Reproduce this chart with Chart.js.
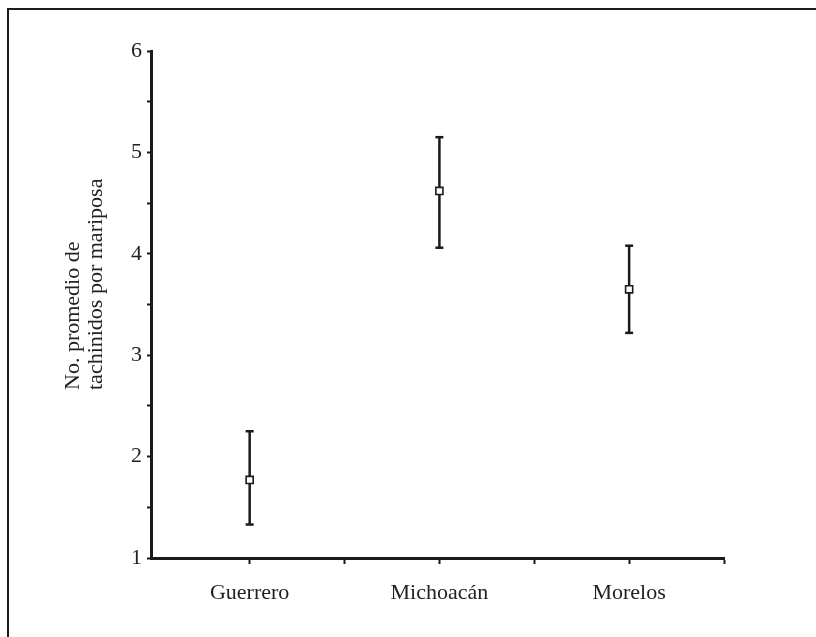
<!DOCTYPE html>
<html>
<head>
<meta charset="utf-8">
<script src="https://cdn.jsdelivr.net/npm/chart.js@4.4.1/dist/chart.umd.min.js"></script>
<style>
  html, body { margin: 0; padding: 0; background: #fff; overflow: hidden; }
  #wrap { position: relative; width: 816px; height: 637px; }
  #frame { position: absolute; left: 7px; top: 8px; right: -10px; bottom: -10px;
           border-left: 2px solid #1c1c1c; border-top: 2px solid #1c1c1c; pointer-events: none; }
</style>
</head>
<body>
<div id="wrap">
  <canvas id="c"></canvas>
  <div id="frame"></div>
</div>
<script>
// ---- data ----
const categories = ['Guerrero', 'Michoacán', 'Morelos'];
const means = [1.77, 4.62, 3.65];
const upperValues = [2.25, 5.15, 4.08];
const lowerValues = [1.33, 4.06, 3.22];
const yTitleLines = ['No. promedio de', 'tachinidos por mariposa'];

const INK = '#1a1a1a';
const FONT = 'Liberation Serif';

const errorDatasets = categories.map((c, i) => ({
  label: c + ' error',
  data: [{ x: i + 1, y: lowerValues[i] }, { x: i + 1, y: upperValues[i] }],
  showLine: true,
  borderColor: INK,
  borderWidth: 2.5,
  pointStyle: 'line',
  pointRadius: 4,
  pointBorderWidth: 2.5,
  pointBorderColor: INK,
  order: 2
}));

const meanDataset = {
  label: 'media',
  data: categories.map((c, i) => ({ x: i + 1, y: means[i] })),
  pointStyle: 'rect',
  pointRadius: 5,
  pointBorderWidth: 1.6,
  pointBorderColor: INK,
  pointBackgroundColor: '#fff',
  showLine: false,
  order: 0
};

const yTitlePlugin = {
  id: 'yTitle',
  afterDraw(chart) {
    const ctx = chart.ctx;
    ctx.save();
    ctx.fillStyle = '#222';
    ctx.font = '22px "' + FONT + '"';
    ctx.textAlign = 'left';
    ctx.textBaseline = 'middle';
    const xs = [73, 96];
    yTitleLines.forEach((t, i) => {
      ctx.save();
      ctx.translate(xs[i], 390);
      ctx.rotate(-Math.PI / 2);
      ctx.fillText(t, 0, 0);
      ctx.restore();
    });
    ctx.restore();
  }
};

new Chart(document.getElementById('c'), {
  type: 'scatter',
  data: { datasets: [meanDataset, ...errorDatasets] },
  plugins: [yTitlePlugin],
  options: {
    responsive: true,
    maintainAspectRatio: false,
    animation: false,
    layout: { padding: { left: 0, top: 51, right: 92, bottom: 0 } },
    plugins: { legend: { display: false }, tooltip: { enabled: false } },
    scales: {
      x: {
        type: 'linear',
        min: 0.48,
        max: 3.5,
        afterBuildTicks: (s) => { s.ticks = [1, 1.5, 2, 2.5, 3, 3.5].map(v => ({ value: v })); },
        afterFit: (s) => { s.height = 79; },
        ticks: {
          autoSkip: false,
          maxRotation: 0,
          padding: 16,
          color: '#222',
          font: { family: FONT, size: 22 },
          callback: (v) => Number.isInteger(v) ? categories[v - 1] : ''
        },
        grid: { drawOnChartArea: false, drawTicks: true, tickLength: 6, tickColor: INK, tickWidth: 2 },
        border: { display: true, color: INK, width: 3 }
      },
      y: {
        min: 1,
        max: 6,
        afterFit: (s) => { s.width = 151; },
        ticks: {
          stepSize: 0.5,
          padding: 5,
          color: '#222',
          font: { family: FONT, size: 22 },
          callback: (v) => Number.isInteger(v) ? String(v) : ''
        },
        grid: { drawOnChartArea: false, drawTicks: true, tickLength: 4, tickColor: INK, tickWidth: 2 },
        border: { display: true, color: INK, width: 3 }
      }
    }
  }
});
</script>
</body>
</html>
